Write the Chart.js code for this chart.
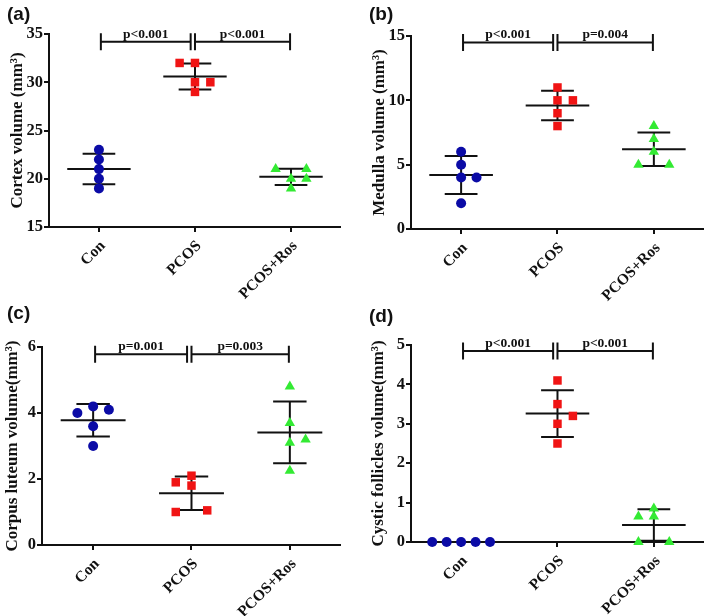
<!DOCTYPE html>
<html>
<head>
<meta charset="utf-8">
<script src="https://cdn.jsdelivr.net/npm/chart.js@4/dist/chart.umd.min.js"></script>
<style>
  body { margin: 0; background: #fff; }
  #wrap { position: relative; width: 709px; height: 616px; overflow: hidden; }
  canvas { position: absolute; }
  .tag { position: absolute; font: bold 19px "Liberation Sans", Arial, sans-serif; color: #111; }
</style>
</head>
<body>
<div id="wrap">
  <canvas id="chartA" width="354" height="312" style="left:0;top:0"></canvas>
  <canvas id="chartB" width="355" height="312" style="left:354px;top:0"></canvas>
  <canvas id="chartC" width="354" height="316" style="left:0;top:300px"></canvas>
  <canvas id="chartD" width="355" height="316" style="left:354px;top:300px"></canvas>
  <div class="tag" style="left:7px;top:3px">(a)</div>
  <div class="tag" style="left:369px;top:3px">(b)</div>
  <div class="tag" style="left:7px;top:302px">(c)</div>
  <div class="tag" style="left:369px;top:305px">(d)</div>
</div>
<script>
const groups = ['Con', 'PCOS', 'PCOS+Ros'];

// (a) cortex volume
const cortexCon = [23, 22, 21, 20, 19];
const cortexPcos = [32, 32, 30, 30, 29];
const cortexRos = [21, 21, 20, 20, 19];
const cortexP = ['p<0.001', 'p<0.001'];
const cortexTicks = [15, 20, 25, 30, 35];

// (b) medulla volume
const medullaCon = [6, 5, 4, 4, 2];
const medullaPcos = [11, 10, 10, 9, 8];
const medullaRos = [8, 7, 6, 5, 5];
const medullaP = ['p<0.001', 'p=0.004'];
const medullaTicks = [0, 5, 10, 15];

// (c) corpus luteum volume
const luteumCon = [4.0, 4.2, 4.1, 3.6, 3.0];
const luteumPcos = [2.1, 1.9, 1.8, 1.0, 1.05];
const luteumRos = [4.8, 3.7, 3.1, 3.2, 2.25];
const luteumP = ['p=0.001', 'p=0.003'];
const luteumTicks = [0, 2, 4, 6];

// (d) cystic follicles volume
const cysticCon = [0, 0, 0, 0, 0];
const cysticPcos = [4.1, 3.5, 3.2, 3.0, 2.5];
const cysticRos = [0.65, 0.85, 0.65, 0, 0];
const cysticP = ['p<0.001', 'p<0.001'];
const cysticTicks = [0, 1, 2, 3, 4, 5];

// height of the significance bars, in axis units
const bracketLevels = [34.2, 14.5, 5.78, 4.85];

// sideways spread of overlapping dots (category units)
const jitterA = [[0, 0, 0, 0, 0], [-0.16, 0, 0, 0.16, 0], [-0.16, 0.16, 0, 0.16, 0]];
const jitterB = [[0, 0, 0, 0.16, 0], [0, 0, 0.16, 0, 0], [0, 0, 0, -0.16, 0.16]];
const jitterC = [[-0.16, 0, 0.16, 0, 0], [0, -0.16, 0, -0.16, 0.16], [0, 0, 0, 0.16, 0]];
const jitterD = [[-0.3, -0.15, 0, 0.15, 0.3], [0, 0, 0.16, 0, 0], [-0.16, 0, 0, -0.16, 0.16]];

const colors = ['#0b0ba6', '#f01414', '#33ea33'];
const shapes = ['circle', 'rect', 'triangle'];
const radii = [5, 6, 6];
const ink = '#111';
const serif = "'Liberation Serif', 'Times New Roman', serif";

function mean(a) { return a.reduce((s, v) => s + v, 0) / a.length; }
function sd(a) {
    const m = mean(a);
    return Math.sqrt(a.reduce((s, v) => s + (v - m) * (v - m), 0) / (a.length - 1));
}

// mean line + SD bars, drawn under the dots
const errorBars = {
    id: 'errorBars',
    beforeDatasetsDraw(chart) {
        const { ctx, scales: { x, y } } = chart;
        ctx.save();
        ctx.strokeStyle = ink;
        ctx.lineWidth = 2;
        chart.data.datasets.forEach((ds, g) => {
            const vals = ds.data.map(p => p.y);
            const m = mean(vals), s = sd(vals);
            const hl = (v, w) => {
                ctx.beginPath();
                ctx.moveTo(x.getPixelForValue(g - w), y.getPixelForValue(v));
                ctx.lineTo(x.getPixelForValue(g + w), y.getPixelForValue(v));
                ctx.stroke();
            };
            hl(m, 0.33);
            hl(m + s, 0.17);
            hl(m - s, 0.17);
            ctx.beginPath();
            ctx.moveTo(x.getPixelForValue(g), y.getPixelForValue(m + s));
            ctx.lineTo(x.getPixelForValue(g), y.getPixelForValue(m - s));
            ctx.stroke();
        });
        ctx.restore();
    }
};

// significance brackets with p values
const brackets = {
    id: 'brackets',
    afterDatasetsDraw(chart, args, opts) {
        const { ctx, scales: { x, y } } = chart;
        const yy = y.getPixelForValue(opts.level);
        const spans = [[0.02, 0.955], [1.0, 1.99]];
        ctx.save();
        ctx.strokeStyle = ink;
        ctx.fillStyle = ink;
        ctx.lineWidth = 2;
        ctx.font = 'bold 13.5px ' + serif;
        ctx.textAlign = 'center';
        ctx.textBaseline = 'alphabetic';
        spans.forEach((sp, i) => {
            const x0 = x.getPixelForValue(sp[0]), x1 = x.getPixelForValue(sp[1]);
            ctx.beginPath();
            ctx.moveTo(x0, yy); ctx.lineTo(x1, yy);
            ctx.moveTo(x0, yy - 8.5); ctx.lineTo(x0, yy + 8.5);
            ctx.moveTo(x1, yy - 8.5); ctx.lineTo(x1, yy + 8.5);
            ctx.stroke();
            ctx.fillText(opts.labels[i], (x0 + x1) / 2, yy - 4);
        });
        ctx.restore();
    }
};

function makePanel(id, series, jitter, pLabels, level, yTicks, title, box) {
    const datasets = series.map((vals, g) => ({
        data: vals.map((v, i) => ({ x: g + jitter[g][i], y: v })),
        pointStyle: shapes[g],
        pointRadius: radii[g],
        pointHoverRadius: radii[g],
        backgroundColor: colors[g],
        borderColor: colors[g],
        borderWidth: 0,
        clip: false
    }));
    const axisLine = { drawOnChartArea: false, drawTicks: true, tickLength: 5, lineWidth: 2, color: ink };
    return new Chart(document.getElementById(id), {
        type: 'scatter',
        data: { datasets: datasets },
        options: {
            responsive: false,
            animation: false,
            devicePixelRatio: 1,
            layout: { padding: { top: box.top, right: box.right, left: 0, bottom: 0 } },
            plugins: {
                legend: { display: false },
                tooltip: { enabled: false },
                brackets: { level: level, labels: pLabels }
            },
            scales: {
                x: {
                    type: 'linear',
                    min: -0.52,
                    max: 2.51,
                    afterBuildTicks: s => { s.ticks = groups.map((_, i) => ({ value: i })); },
                    afterFit: s => { s.height = box.xh; },
                    ticks: {
                        callback: v => groups[v],
                        minRotation: 45,
                        maxRotation: 45,
                        autoSkip: false,
                        padding: 5,
                        labelOffset: 4,
                        color: ink,
                        font: { family: serif, size: 15.5, weight: 'bold' }
                    },
                    grid: axisLine,
                    border: { display: true, width: 2, color: ink }
                },
                y: {
                    min: yTicks[0],
                    max: yTicks[yTicks.length - 1],
                    afterBuildTicks: s => { s.ticks = yTicks.map(v => ({ value: v })); },
                    afterFit: s => { s.width = box.yw; },
                    ticks: {
                        padding: 1,
                        color: ink,
                        font: { family: serif, size: 16.5, weight: 'bold' }
                    },
                    grid: axisLine,
                    border: { display: true, width: 2, color: ink },
                    title: {
                        display: true,
                        text: title,
                        color: ink,
                        padding: { top: box.tp, bottom: 0 },
                        font: { family: serif, size: 17, weight: 'bold', lineHeight: 1 }
                    }
                }
            }
        },
        plugins: [errorBars, brackets]
    });
}

makePanel('chartA', [cortexCon, cortexPcos, cortexRos], jitterA, cortexP, bracketLevels[0], cortexTicks,
    'Cortex volume (mm³)', { top: 34, right: 14, xh: 85, yw: 49, tp: 9.5 });
makePanel('chartB', [medullaCon, medullaPcos, medullaRos], jitterB, medullaP, bracketLevels[1], medullaTicks,
    'Medulla volume (mm³)', { top: 36, right: 3, xh: 83, yw: 57, tp: 17.5 });
makePanel('chartC', [luteumCon, luteumPcos, luteumRos], jitterC, luteumP, bracketLevels[2], luteumTicks,
    'Corpus luteum volume(mm³)', { top: 47, right: 14, xh: 71, yw: 42, tp: 4 });
makePanel('chartD', [cysticCon, cysticPcos, cysticRos], jitterD, cysticP, bracketLevels[3], cysticTicks,
    'Cystic follicles volume(mm³)', { top: 45, right: 3, xh: 74, yw: 57, tp: 16.5 });
</script>
</body>
</html>
